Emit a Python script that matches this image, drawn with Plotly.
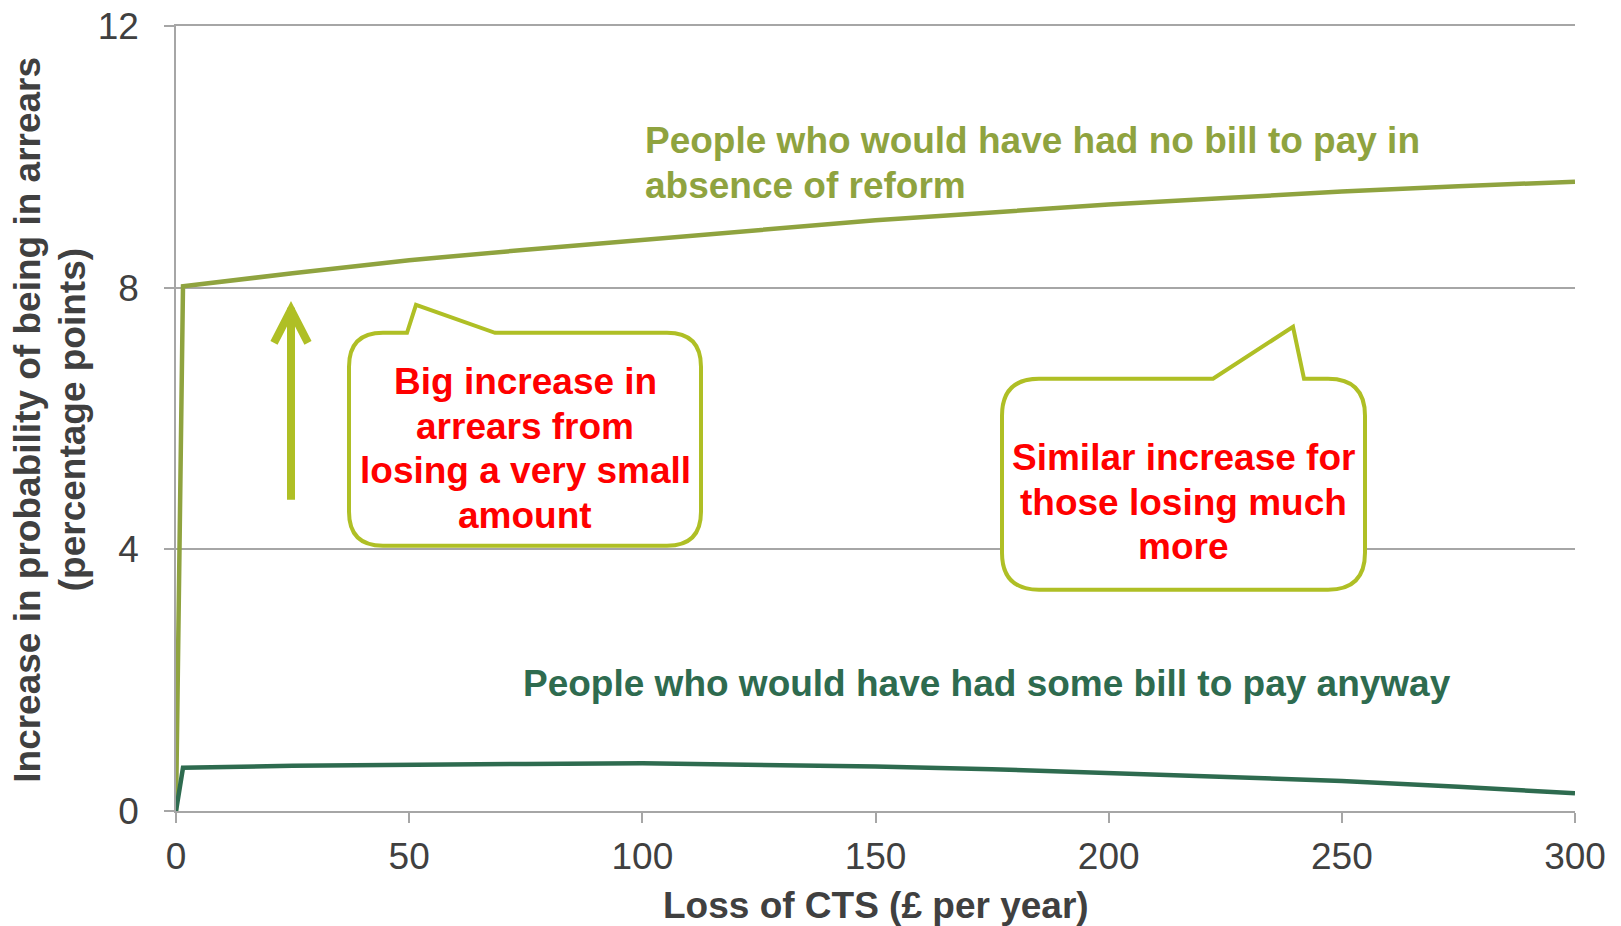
import plotly.graph_objects as go

# data
loss = [0, 1.5, 25, 50, 75, 100, 125, 150, 175, 200, 225, 250, 275, 300]
no_bill = [0, 8.02, 8.22, 8.42, 8.58, 8.73, 8.88, 9.03, 9.15, 9.27, 9.37, 9.47, 9.55, 9.62]
some_bill = [0, 0.66, 0.69, 0.71, 0.72, 0.73, 0.71, 0.68, 0.64, 0.58, 0.52, 0.46, 0.37, 0.27]

x_ticks = [0, 50, 100, 150, 200, 250, 300]
y_ticks = [0, 4, 8, 12]

# page pixels of the plot area (the page body adds an 8px margin)
OFF = 8
X0, X1, Y0, Y1 = 176, 1575, 26, 811.5
W, H = 1621 - OFF, 926 - OFF
FONT = "Liberation Sans, Arial, sans-serif"
OLIVE = "#8fa33f"
DARK = "#2e6b4f"
LIME = "#afbf25"
GREY = "#404040"
GRID = "#a6a6a6"
SIZE = 37
LINE_GAP = 44.5

# page pixel -> paper helpers for the callout drawings and texts
def px(x):
    return (x - X0) / (X1 - X0)

def py(y):
    return (Y1 - y) / (Y1 - Y0)

def pt(x, y):
    return "%.5f,%.5f" % (px(x), py(y))

def callout(x0, y0, x1, y1, r, tail):
    p = "M" + pt(x0 + r, y0)
    for tx, ty in tail:
        p += " L" + pt(tx, ty)
    p += " L" + pt(x1 - r, y0)
    p += " Q" + pt(x1, y0) + " " + pt(x1, y0 + r)
    p += " L" + pt(x1, y1 - r)
    p += " Q" + pt(x1, y1) + " " + pt(x1 - r, y1)
    p += " L" + pt(x0 + r, y1)
    p += " Q" + pt(x0, y1) + " " + pt(x0, y1 - r)
    p += " L" + pt(x0, y0 + r)
    p += " Q" + pt(x0, y0) + " " + pt(x0 + r, y0) + " Z"
    return dict(type="path", xref="paper", yref="paper", path=p,
                fillcolor="white", line=dict(color=LIME, width=4), layer="above")

fig = go.Figure()
fig.add_trace(go.Scatter(x=loss, y=no_bill, mode="lines",
                         line=dict(color=OLIVE, width=4.5), showlegend=False))
fig.add_trace(go.Scatter(x=loss, y=some_bill, mode="lines",
                         line=dict(color=DARK, width=4.5), showlegend=False))

shapes = [
    callout(349, 333, 701, 546, 34, [(407, 333), (416, 305), (495, 333)]),
    callout(1002, 379, 1365, 590, 37, [(1213, 379), (1293, 327), (1304, 379)]),
    dict(type="line", xref="paper", yref="paper", x0=px(291), x1=px(291),
         y0=py(500), y1=py(308), line=dict(color=LIME, width=8)),
    dict(type="path", xref="paper", yref="paper",
         path="M" + pt(274, 343) + " L" + pt(291, 310) + " L" + pt(308, 343),
         line=dict(color=LIME, width=8)),
]

annotations = []

# one annotation per text line, so the line spacing matches the original
def note(lines, x, y_first, color, anchor="center", angle=0):
    for i, line in enumerate(lines):
        if angle:
            xx, yy = px(x + i * LINE_GAP), py(y_first)
        else:
            xx, yy = px(x), py(y_first + i * LINE_GAP)
        annotations.append(dict(
            text=line, xref="paper", yref="paper", x=xx, y=yy,
            xanchor=anchor, yanchor="middle", showarrow=False, textangle=angle,
            font=dict(family=FONT, size=SIZE, color=color, weight="bold")))

note(["People who would have had no bill to pay in", "absence of reform"],
     643, 141, OLIVE, anchor="left")
note(["People who would have had some bill to pay anyway"], 987, 684, DARK)
note(["Big increase in", "arrears from", "losing a very small", "amount"],
     525, 382, "#ff0000")
note(["Similar increase for", "those losing much", "more"], 1183, 458, "#ff0000")
note(["Loss of CTS (£ per year)"], 876, 906, GREY)
note(["Increase in probability of being in arrears", "(percentage points)"],
     28, 420, GREY, angle=-90)

fig.update_layout(
    width=W, height=H,
    margin=dict(l=X0 - OFF, r=W - (X1 - OFF), t=Y0 - OFF, b=H - (Y1 - OFF)),
    plot_bgcolor="white", paper_bgcolor="white",
    font=dict(family=FONT, color=GREY),
    shapes=shapes, annotations=annotations,
    xaxis=dict(range=[0, 300], tickvals=x_ticks, showgrid=False, zeroline=False,
               showline=True, mirror=True, linecolor=GRID, linewidth=1.5,
               ticks="outside", ticklen=10, tickwidth=1.5,
               tickcolor=GRID, tickfont=dict(size=SIZE, color=GREY),
               ticklabelstandoff=2, automargin=False),
    yaxis=dict(range=[0, 12], tickvals=y_ticks, showgrid=True, gridcolor=GRID,
               gridwidth=1.5, zeroline=False, showline=True, linecolor=GRID,
               linewidth=1.5, ticks="outside", ticklen=10, tickwidth=1.5,
               tickcolor=GRID, tickfont=dict(size=SIZE, color=GREY),
               ticklabelstandoff=18, ticklabeloverflow="allow", automargin=False),
)

fig.write_html("out.html")
